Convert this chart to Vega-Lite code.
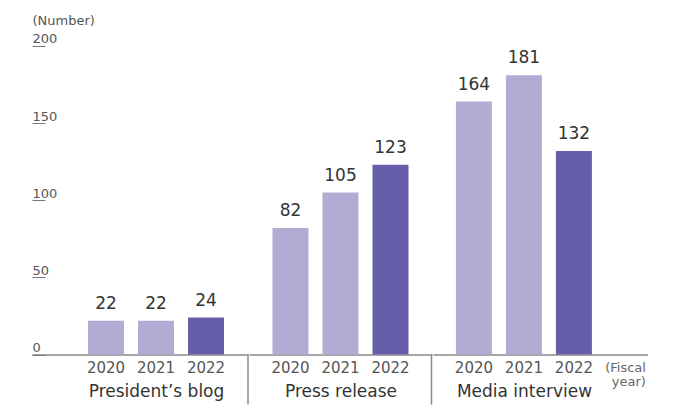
{
  "$schema": "https://vega.github.io/schema/vega-lite/v6.json",
  "padding": {"left": 31, "top": 15, "right": 0, "bottom": 0},
  "spacing": 0,
  "config": {
    "view": {"stroke": null},
    "font": "DejaVu Sans",
    "axisX": {
      "labelAngle": 0, "ticks": false, "domainColor": "#8a8a8a", "domainWidth": 1.5,
      "labelColor": "#555555", "labelFontSize": 15, "labelPadding": 6,
      "titleFontSize": 17, "titleFontWeight": "normal", "titleColor": "#333333", "titlePadding": 8, "titleAlign": "center"
    }
  },
  "datasets": {
    "counts": [
      {"group": "President’s blog", "year": "2020", "value": 22},
      {"group": "President’s blog", "year": "2021", "value": 22},
      {"group": "President’s blog", "year": "2022", "value": 24},
      {"group": "Press release", "year": "2020", "value": 82},
      {"group": "Press release", "year": "2021", "value": 105},
      {"group": "Press release", "year": "2022", "value": 123},
      {"group": "Media interview", "year": "2020", "value": 164},
      {"group": "Media interview", "year": "2021", "value": 181},
      {"group": "Media interview", "year": "2022", "value": 132}
    ]
  },
  "hconcat": [
    {
      "width": 216, "height": 308.6,
      "data": {"name": "counts"},
      "transform": [{"filter": "datum.group === 'President’s blog'"}],
      "encoding": {
        "x": {"field": "year", "type": "ordinal", "scale": {"paddingInner": 0.28, "paddingOuter": 0.8, "align": 0.7}, "axis": {"title": "President’s blog", "titleX": 124}},
        "y": {"field": "value", "type": "quantitative", "scale": {"domain": [0, 200], "nice": false},
          "axis": {"values": [0, 50, 100, 150, 200], "domain": false, "grid": false, "tickSize": -13, "tickColor": "#777777", "tickWidth": 1,
            "labelAlign": "left", "labelBaseline": "alphabetic", "labelOffset": -3, "labelPadding": 13, "labelFontSize": 13, "labelColor": "#555555",
            "title": "(Number)", "titleAngle": 0, "titleAlign": "left", "titleBaseline": "alphabetic", "titleX": 0, "titleY": -21,
            "titleFontSize": 13, "titleFontWeight": "normal", "titleColor": "#555555"}}
      },
      "layer": [
        {"mark": {"type": "bar"}, "encoding": {"color": {"field": "year", "type": "nominal", "scale": {"domain": ["2020", "2021", "2022"], "range": ["#b2acd4", "#b2acd4", "#665ea8"]}, "legend": null}}},
        {"mark": {"type": "text", "dy": -12, "baseline": "alphabetic", "fontSize": 17, "color": "#333333"}, "encoding": {"text": {"field": "value", "type": "quantitative"}}},
        {"transform": [{"filter": "datum.year === '2022'"}], "mark": {"type": "rule", "color": "#8a8a8a", "strokeWidth": 1.5, "xOffset": 24, "y2Offset": 50},
          "encoding": {"x": {"field": "year", "type": "ordinal", "bandPosition": 1}, "y": {"datum": 0}, "y2": {"datum": 0}}}
      ]
    },
    {
      "width": 183, "height": 308.6,
      "data": {"name": "counts"},
      "transform": [{"filter": "datum.group === 'Press release'"}],
      "encoding": {
        "x": {"field": "year", "type": "ordinal", "scale": {"paddingInner": 0.28, "paddingOuter": 0.47, "align": 0.5}, "axis": {"title": "Press release", "titleX": 91.5}},
        "y": {"field": "value", "type": "quantitative", "scale": {"domain": [0, 200], "nice": false}, "axis": null}
      },
      "layer": [
        {"mark": {"type": "bar"}, "encoding": {"color": {"field": "year", "type": "nominal", "scale": {"domain": ["2020", "2021", "2022"], "range": ["#b2acd4", "#b2acd4", "#665ea8"]}, "legend": null}}},
        {"mark": {"type": "text", "dy": -12, "baseline": "alphabetic", "fontSize": 17, "color": "#333333"}, "encoding": {"text": {"field": "value", "type": "quantitative"}}},
        {"transform": [{"filter": "datum.year === '2022'"}], "mark": {"type": "rule", "color": "#8a8a8a", "strokeWidth": 1.5, "xOffset": 23, "y2Offset": 50},
          "encoding": {"x": {"field": "year", "type": "ordinal", "bandPosition": 1}, "y": {"datum": 0}, "y2": {"datum": 0}}}
      ]
    },
    {
      "width": 215, "height": 308.6,
      "data": {"name": "counts"},
      "transform": [{"filter": "datum.group === 'Media interview'"}],
      "encoding": {
        "x": {"field": "year", "type": "ordinal", "scale": {"paddingInner": 0.28, "paddingOuter": 0.79, "align": 0.29}, "axis": {"title": "Media interview", "titleX": 91}},
        "y": {"field": "value", "type": "quantitative", "scale": {"domain": [0, 200], "nice": false}, "axis": null}
      },
      "layer": [
        {"mark": {"type": "bar"}, "encoding": {"color": {"field": "year", "type": "nominal", "scale": {"domain": ["2020", "2021", "2022"], "range": ["#b2acd4", "#b2acd4", "#665ea8"]}, "legend": null}}},
        {"mark": {"type": "text", "dy": -12, "baseline": "alphabetic", "fontSize": 17, "color": "#333333"}, "encoding": {"text": {"field": "value", "type": "quantitative"}}},
        {"transform": [{"filter": "datum.year === '2022'"}], "mark": {"type": "text", "text": ["(Fiscal", "year)"], "align": "right", "baseline": "top", "fontSize": 13, "lineHeight": 14, "color": "#666666", "xOffset": 72, "dy": 7},
          "encoding": {"x": {"field": "year", "type": "ordinal"}, "y": {"datum": 0}}}
      ]
    }
  ]
}
